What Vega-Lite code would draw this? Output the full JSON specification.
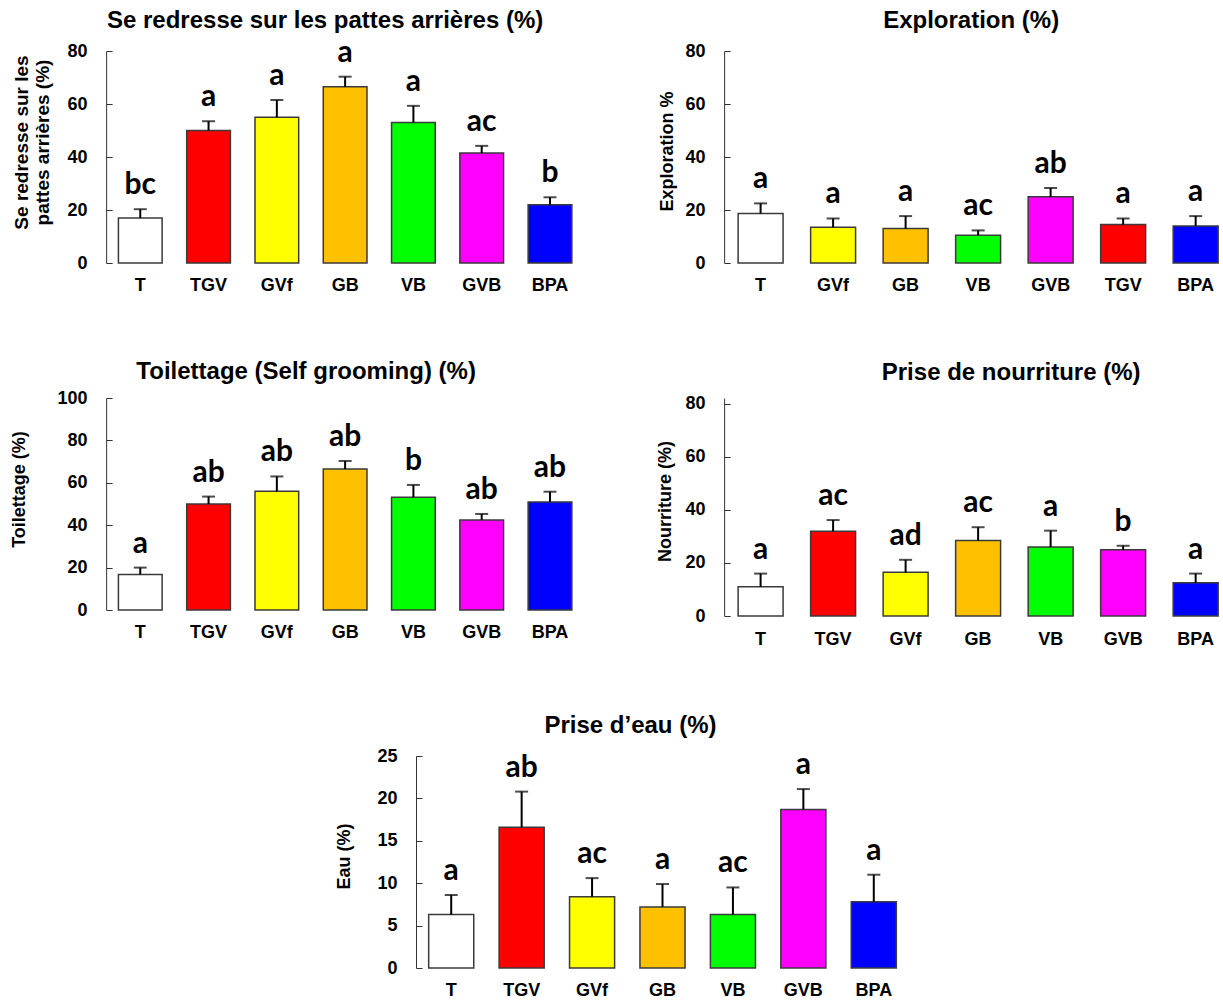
{
  "$schema": "https://vega.github.io/schema/vega-lite/v6.json",
  "background": "white",
  "padding": {"left": 10, "top": 8, "right": 0, "bottom": 0},
  "datasets": {
    "d": [
      {"panel": "p1", "group": "T", "v": 17, "err": 20.3, "lbl": "bc"},
      {"panel": "p1", "group": "TGV", "v": 50, "err": 53.5, "lbl": "a"},
      {"panel": "p1", "group": "GVf", "v": 55, "err": 61.5, "lbl": "a"},
      {"panel": "p1", "group": "GB", "v": 66.5, "err": 70.3, "lbl": "a"},
      {"panel": "p1", "group": "VB", "v": 53, "err": 59.3, "lbl": "a"},
      {"panel": "p1", "group": "GVB", "v": 41.5, "err": 44.2, "lbl": "ac"},
      {"panel": "p1", "group": "BPA", "v": 22, "err": 24.8, "lbl": "b"},
      {"panel": "p2", "group": "T", "v": 18.7, "err": 22.5, "lbl": "a"},
      {"panel": "p2", "group": "GVf", "v": 13.5, "err": 16.8, "lbl": "a"},
      {"panel": "p2", "group": "GB", "v": 13, "err": 17.7, "lbl": "a"},
      {"panel": "p2", "group": "VB", "v": 10.5, "err": 12.3, "lbl": "ac"},
      {"panel": "p2", "group": "GVB", "v": 25, "err": 28.3, "lbl": "ab"},
      {"panel": "p2", "group": "TGV", "v": 14.5, "err": 16.8, "lbl": "a"},
      {"panel": "p2", "group": "BPA", "v": 14, "err": 17.7, "lbl": "a"},
      {"panel": "p3", "group": "T", "v": 16.8, "err": 20, "lbl": "a"},
      {"panel": "p3", "group": "TGV", "v": 50, "err": 53.5, "lbl": "ab"},
      {"panel": "p3", "group": "GVf", "v": 56, "err": 63, "lbl": "ab"},
      {"panel": "p3", "group": "GB", "v": 66.5, "err": 70.3, "lbl": "ab"},
      {"panel": "p3", "group": "VB", "v": 53.2, "err": 59, "lbl": "b"},
      {"panel": "p3", "group": "GVB", "v": 42.5, "err": 45.3, "lbl": "ab"},
      {"panel": "p3", "group": "BPA", "v": 51, "err": 55.8, "lbl": "ab"},
      {"panel": "p4", "group": "T", "v": 11, "err": 16, "lbl": "a"},
      {"panel": "p4", "group": "TGV", "v": 32, "err": 36.2, "lbl": "ac"},
      {"panel": "p4", "group": "GVf", "v": 16.5, "err": 21.2, "lbl": "ad"},
      {"panel": "p4", "group": "GB", "v": 28.5, "err": 33.5, "lbl": "ac"},
      {"panel": "p4", "group": "VB", "v": 26, "err": 32.2, "lbl": "a"},
      {"panel": "p4", "group": "GVB", "v": 25, "err": 26.5, "lbl": "b"},
      {"panel": "p4", "group": "BPA", "v": 12.5, "err": 16, "lbl": "a"},
      {"panel": "p5", "group": "T", "v": 6.3, "err": 8.6, "lbl": "a"},
      {"panel": "p5", "group": "TGV", "v": 16.6, "err": 20.8, "lbl": "ab"},
      {"panel": "p5", "group": "GVf", "v": 8.4, "err": 10.6, "lbl": "ac"},
      {"panel": "p5", "group": "GB", "v": 7.2, "err": 9.9, "lbl": "a"},
      {"panel": "p5", "group": "VB", "v": 6.3, "err": 9.5, "lbl": "ac"},
      {"panel": "p5", "group": "GVB", "v": 18.7, "err": 21.1, "lbl": "a"},
      {"panel": "p5", "group": "BPA", "v": 7.8, "err": 11.0, "lbl": "a"}
    ]
  },
  "data": {"name": "d"},
  "config": {
    "view": {"stroke": null},
    "font": "Liberation Sans",
    "title": {"font": "Liberation Sans", "fontSize": 24, "fontWeight": "bold", "color": "black", "anchor": "middle", "frame": "group", "baseline": "bottom"},
    "axisY": {"domainColor": "#333333", "tickColor": "#333333", "tickSize": -6, "labelPadding": 25, "labelFont": "Liberation Sans", "labelFontSize": 18, "labelFontWeight": "bold", "labelColor": "black", "titleFont": "Liberation Sans", "titleFontSize": 18, "titleFontWeight": "bold", "titleColor": "black", "titleBaseline": "middle", "titleAlign": "center", "grid": false},
    "axisX": {"domain": false, "ticks": false, "labelAngle": 0, "labelPadding": 13, "labelFont": "Liberation Sans", "labelFontSize": 18, "labelFontWeight": "bold", "labelColor": "black", "labelBaseline": "top", "title": null, "grid": false}
  },
  "spacing": 66,
  "center": true,
  "vconcat": [
    {
      "spacing": 73,
      "hconcat": [
        {
          "title": {"text": "Se redresse sur les pattes arrières (%)", "dx": -20, "offset": 5},
          "width": 478, "height": 212,
          "transform": [{"filter": "datum.panel === 'p1'"}],
          "encoding": {"x": {"field": "group", "type": "nominal", "sort": null, "scale": {"paddingInner": 0.36, "paddingOuter": 0.18}, "axis": {"title": null}}},
          "layer": [
            {"mark": {"type": "bar", "stroke": "#3a3a3a", "strokeWidth": 1.5},
             "encoding": {
               "y": {"field": "v", "type": "quantitative", "scale": {"domain": [0, 80], "nice": false}, "axis": {"values": [0, 20, 40, 60, 80], "title": ["Se redresse sur les", "pattes arrières (%)"], "titleX": -85, "titleY": 91, "titleLineHeight": 21, "titleFontSize": 19}},
               "color": {"field": "group", "type": "nominal", "scale": {"domain": ["T", "TGV", "GVf", "GB", "VB", "GVB", "BPA"], "range": ["#FFFFFF", "#FF0000", "#FFFF00", "#FFC000", "#00FF00", "#FF00FF", "#0000FF"]}, "legend": null}}},
            {"mark": {"type": "rule", "color": "black", "strokeWidth": 2}, "encoding": {"y": {"field": "v", "type": "quantitative"}, "y2": {"field": "err"}}},
            {"mark": {"type": "tick", "color": "black", "thickness": 2, "size": 13}, "encoding": {"y": {"field": "err", "type": "quantitative"}}},
            {"mark": {"type": "text", "font": "Lato", "fontWeight": "bold", "fontSize": 30, "baseline": "alphabetic", "dy": -15, "color": "black"}, "encoding": {"y": {"field": "err", "type": "quantitative"}, "text": {"field": "lbl"}}}
          ]
        },
        {
          "title": {"text": "Exploration (%)", "dx": 0, "offset": 9},
          "width": 494, "height": 212,
          "transform": [{"filter": "datum.panel === 'p2'"}],
          "encoding": {"x": {"field": "group", "type": "nominal", "sort": null, "scale": {"paddingInner": 0.38, "paddingOuter": 0.0965, "align": 1}, "axis": {"title": null}}},
          "layer": [
            {"mark": {"type": "bar", "stroke": "#3a3a3a", "strokeWidth": 1.5},
             "encoding": {
               "y": {"field": "v", "type": "quantitative", "scale": {"domain": [0, 80], "nice": false}, "axis": {"values": [0, 20, 40, 60, 80], "title": "Exploration %", "titleX": -57, "titleY": 100}},
               "color": {"field": "group", "type": "nominal", "scale": {"domain": ["T", "TGV", "GVf", "GB", "VB", "GVB", "BPA"], "range": ["#FFFFFF", "#FF0000", "#FFFF00", "#FFC000", "#00FF00", "#FF00FF", "#0000FF"]}, "legend": null}}},
            {"mark": {"type": "rule", "color": "black", "strokeWidth": 2}, "encoding": {"y": {"field": "v", "type": "quantitative"}, "y2": {"field": "err"}}},
            {"mark": {"type": "tick", "color": "black", "thickness": 2, "size": 13}, "encoding": {"y": {"field": "err", "type": "quantitative"}}},
            {"mark": {"type": "text", "font": "Lato", "fontWeight": "bold", "fontSize": 30, "baseline": "alphabetic", "dy": -15, "color": "black"}, "encoding": {"y": {"field": "err", "type": "quantitative"}, "text": {"field": "lbl"}}}
          ]
        }
      ]
    },
    {
      "spacing": 71,
      "hconcat": [
        {
          "title": {"text": "Toilettage (Self grooming) (%)", "dx": -39, "offset": 5},
          "width": 478, "height": 212,
          "transform": [{"filter": "datum.panel === 'p3'"}],
          "encoding": {"x": {"field": "group", "type": "nominal", "sort": null, "scale": {"paddingInner": 0.36, "paddingOuter": 0.18}, "axis": {"title": null}}},
          "layer": [
            {"mark": {"type": "bar", "stroke": "#3a3a3a", "strokeWidth": 1.5},
             "encoding": {
               "y": {"field": "v", "type": "quantitative", "scale": {"domain": [0, 100], "nice": false}, "axis": {"values": [0, 20, 40, 60, 80, 100], "title": "Toilettage (%)", "titleX": -87, "titleY": 91}},
               "color": {"field": "group", "type": "nominal", "scale": {"domain": ["T", "TGV", "GVf", "GB", "VB", "GVB", "BPA"], "range": ["#FFFFFF", "#FF0000", "#FFFF00", "#FFC000", "#00FF00", "#FF00FF", "#0000FF"]}, "legend": null}}},
            {"mark": {"type": "rule", "color": "black", "strokeWidth": 2}, "encoding": {"y": {"field": "v", "type": "quantitative"}, "y2": {"field": "err"}}},
            {"mark": {"type": "tick", "color": "black", "thickness": 2, "size": 13}, "encoding": {"y": {"field": "err", "type": "quantitative"}}},
            {"mark": {"type": "text", "font": "Lato", "fontWeight": "bold", "fontSize": 30, "baseline": "alphabetic", "dy": -15, "color": "black"}, "encoding": {"y": {"field": "err", "type": "quantitative"}, "text": {"field": "lbl"}}}
          ]
        },
        {
          "title": {"text": "Prise de nourriture (%)", "dx": 40, "offset": 10},
          "width": 494, "height": 218,
          "transform": [{"filter": "datum.panel === 'p4'"}],
          "encoding": {"x": {"field": "group", "type": "nominal", "sort": null, "scale": {"paddingInner": 0.38, "paddingOuter": 0.0965, "align": 1}, "axis": {"title": null, "labelPadding": 14}}},
          "layer": [
            {"mark": {"type": "bar", "stroke": "#3a3a3a", "strokeWidth": 1.5},
             "encoding": {
               "y": {"field": "v", "type": "quantitative", "scale": {"domain": [0, 82.26], "nice": false}, "axis": {"values": [0, 20, 40, 60, 80], "title": "Nourriture (%)", "titleX": -59, "titleY": 103}},
               "color": {"field": "group", "type": "nominal", "scale": {"domain": ["T", "TGV", "GVf", "GB", "VB", "GVB", "BPA"], "range": ["#FFFFFF", "#FF0000", "#FFFF00", "#FFC000", "#00FF00", "#FF00FF", "#0000FF"]}, "legend": null}}},
            {"mark": {"type": "rule", "color": "black", "strokeWidth": 2}, "encoding": {"y": {"field": "v", "type": "quantitative"}, "y2": {"field": "err"}}},
            {"mark": {"type": "tick", "color": "black", "thickness": 2, "size": 13}, "encoding": {"y": {"field": "err", "type": "quantitative"}}},
            {"mark": {"type": "text", "font": "Lato", "fontWeight": "bold", "fontSize": 30, "baseline": "alphabetic", "dy": -15, "color": "black"}, "encoding": {"y": {"field": "err", "type": "quantitative"}, "text": {"field": "lbl"}}}
          ]
        }
      ]
    },
    {
      "title": {"text": "Prise d’eau (%)", "dx": -32, "offset": 9},
      "width": 493, "height": 212,
      "transform": [{"filter": "datum.panel === 'p5'"}],
      "encoding": {"x": {"field": "group", "type": "nominal", "sort": null, "scale": {"paddingInner": 0.36, "paddingOuter": 0.18}, "axis": {"title": null}}},
      "layer": [
        {"mark": {"type": "bar", "stroke": "#3a3a3a", "strokeWidth": 1.5},
         "encoding": {
           "y": {"field": "v", "type": "quantitative", "scale": {"domain": [0, 25], "nice": false}, "axis": {"values": [0, 5, 10, 15, 20, 25], "title": [" ", "Eau (%)"], "titleX": -79.5, "titleY": 100, "titleLineHeight": 7.5}},
           "color": {"field": "group", "type": "nominal", "scale": {"domain": ["T", "TGV", "GVf", "GB", "VB", "GVB", "BPA"], "range": ["#FFFFFF", "#FF0000", "#FFFF00", "#FFC000", "#00FF00", "#FF00FF", "#0000FF"]}, "legend": null}}},
        {"mark": {"type": "rule", "color": "black", "strokeWidth": 2}, "encoding": {"y": {"field": "v", "type": "quantitative"}, "y2": {"field": "err"}}},
        {"mark": {"type": "tick", "color": "black", "thickness": 2, "size": 13}, "encoding": {"y": {"field": "err", "type": "quantitative"}}},
        {"mark": {"type": "text", "font": "Lato", "fontWeight": "bold", "fontSize": 30, "baseline": "alphabetic", "dy": -15, "color": "black"}, "encoding": {"y": {"field": "err", "type": "quantitative"}, "text": {"field": "lbl"}}}
      ]
    }
  ]
}
